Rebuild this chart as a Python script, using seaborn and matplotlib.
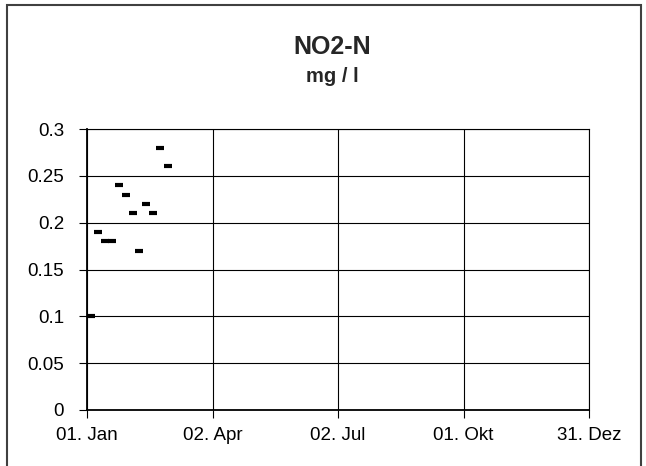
import pandas as pd
import numpy as np
import matplotlib
matplotlib.use("Agg")
import matplotlib.pyplot as plt
from matplotlib.patches import Rectangle
import seaborn as sns

# sampling dates (year-neutral, plotted on 2001) and NO2-N values in mg/l
dates = ["2001-01-04", "2001-01-09", "2001-01-14", "2001-01-19", "2001-01-24", "2001-01-29",
         "2001-02-03", "2001-02-08", "2001-02-13", "2001-02-18", "2001-02-23", "2001-03-01"]
no2_n = [0.10, 0.19, 0.18, 0.18, 0.24, 0.23, 0.21, 0.17, 0.22, 0.21, 0.28, 0.26]

tick_dates = ["2001-01-01", "2001-04-02", "2001-07-02", "2001-10-01", "2001-12-31"]
tick_labels = ["01. Jan", "02. Apr", "02. Jul", "01. Okt", "31. Dez"]
y_ticks = [0, 0.05, 0.1, 0.15, 0.2, 0.25, 0.3]
y_labels = ["0", "0.05", "0.1", "0.15", "0.2", "0.25", "0.3"]

df = pd.DataFrame({"date": pd.to_datetime(dates), "value": no2_n})

sns.set_theme(style="white")
plt.rcParams["font.family"] = ["Liberation Sans", "DejaVu Sans"]

fig = plt.figure(figsize=(6.46, 4.66), dpi=100)
ax = fig.add_axes([87/646, 1-410/466, (589-87)/646, (410-129)/466])

sns.scatterplot(data=df, x="date", y="value", marker="_", s=36, linewidth=3,
                color="black", ax=ax, legend=False, zorder=5, clip_on=False)

ax.set_xlim(pd.Timestamp(tick_dates[0]), pd.Timestamp(tick_dates[-1]))
ax.set_ylim(0, 0.3)
ax.set_xticks(pd.to_datetime(tick_dates))
ax.set_xticklabels(tick_labels)
ax.set_yticks(y_ticks)
ax.set_yticklabels(y_labels)
ax.set_xlabel("")
ax.set_ylabel("")
ax.grid(True, color="black", linewidth=0.8)
ax.tick_params(axis="both", which="major", direction="out", length=5.5, width=0.8,
               color="black", labelsize=13.5, labelcolor="black",
               bottom=True, left=True)
ax.tick_params(axis="x", pad=6.5)
ax.tick_params(axis="y", pad=11)
for sp in ax.spines.values():
    sp.set_visible(True)
    sp.set_color("black")
    sp.set_linewidth(0.8)
ax.spines["left"].set_linewidth(1.3)
ax.spines["bottom"].set_linewidth(1.3)

fig.text(332/646, 1-53.5/466, "NO2-N", ha="center", va="baseline", fontsize=18, fontweight="bold")
fig.text(332/646, 1-81.5/466, "mg / l", ha="center", va="baseline", fontsize=14.5, fontweight="bold")

# outer chart frame
fig.add_artist(Rectangle((7/646, -0.1), (641-7)/646, 1.1-5/466,
                         transform=fig.transFigure, fill=False,
                         edgecolor="#404040", linewidth=1.5))

fig.savefig("out.png", dpi=100)
